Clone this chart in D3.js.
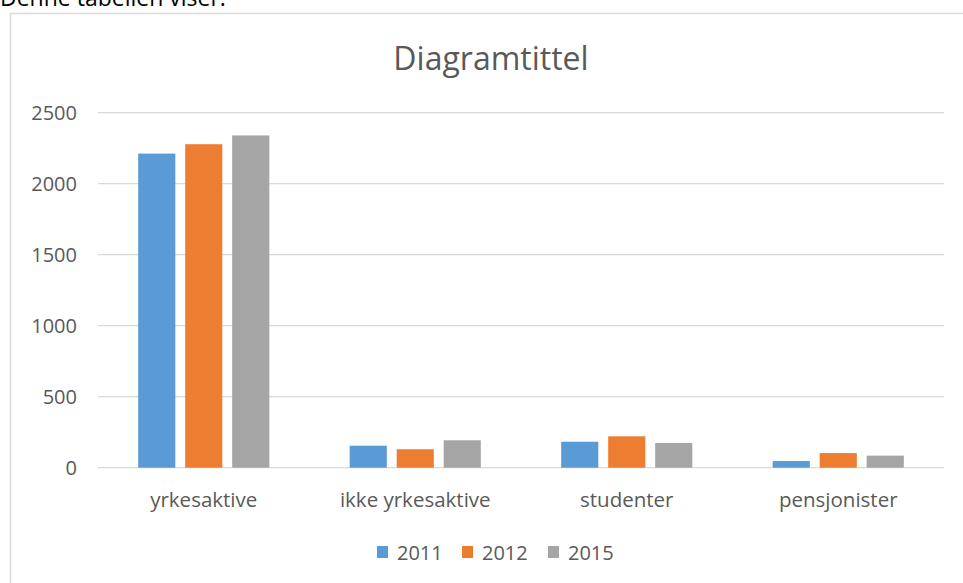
<!DOCTYPE html>
<html>
<head>
<meta charset="utf-8">
<script src="https://cdn.jsdelivr.net/npm/d3@7"></script>
<style>
  body { margin: 0; background: #fff; }
  svg { display: block; font-family: "Open Sans", sans-serif; }
</style>
</head>
<body>
<svg id="chart" width="963" height="583"></svg>
<script>
// data
const categories = ["yrkesaktive", "ikke yrkesaktive", "studenter", "pensjonister"];
const years = ["2011", "2012", "2015"];
const values2011 = [2212, 155, 183, 47];
const values2012 = [2278, 130, 221, 103];
const values2015 = [2340, 193, 174, 85];
const yTicks = [0, 500, 1000, 1500, 2000, 2500];
const colors = ["#5b9bd5", "#ed7d31", "#a5a5a5"];

const series = [values2011, values2012, values2015];

const svg = d3.select("#chart"),
    width = +svg.attr("width"),
    height = +svg.attr("height");

// the text above the chart, cut at the top
svg.append("text")
    .attr("x", 0)
    .attr("y", 6)
    .attr("font-size", 23)
    .attr("fill", "#000")
    .text("Denne tabellen viser:");

// chart frame
svg.append("rect")
    .attr("x", 10.5)
    .attr("y", 13.5)
    .attr("width", 1000)
    .attr("height", 1000)
    .attr("fill", "none")
    .attr("stroke", "#d9d9d9")
    .attr("stroke-width", 1.5);

const margin = {left: 98, right: 944, top: 112.7, bottom: 467.7};

let x = d3.scaleBand()
    .domain(categories)
    .range([margin.left, margin.right]);

let xInner = d3.scaleBand()
    .domain(years)
    .range([0, x.bandwidth() * 0.62])
    .paddingInner(0.21);

let y = d3.scaleLinear()
    .domain([0, 2500])
    .range([margin.bottom, margin.top]);

// gridlines
svg.append("g")
    .selectAll("line")
    .data(yTicks)
    .enter().append("line")
    .attr("x1", margin.left)
    .attr("x2", margin.right)
    .attr("y1", d => y(d))
    .attr("y2", d => y(d))
    .attr("stroke", "#d9d9d9")
    .attr("stroke-width", 1.2);

// y axis labels
let yAxis = d3.axisLeft(y).tickValues(yTicks).tickFormat(d3.format("d")).tickSize(0).tickPadding(21);
let gy = svg.append("g")
    .attr("transform", "translate(" + margin.left + ",0)")
    .call(yAxis);
gy.select(".domain").remove();
gy.selectAll("text")
    .attr("font-family", "Open Sans, sans-serif")
    .attr("font-size", 20)
    .attr("fill", "#595959");

// bars
let groupOffset = (x.bandwidth() - xInner.range()[1]) / 2;
let groups = svg.append("g")
    .selectAll("g")
    .data(categories)
    .enter().append("g")
    .attr("transform", d => "translate(" + (x(d) + groupOffset) + ",0)");

groups.selectAll("rect")
    .data((d, i) => years.map((yr, j) => ({year: yr, value: series[j][i], k: j})))
    .enter().append("rect")
    .attr("x", d => xInner(d.year))
    .attr("width", xInner.bandwidth())
    .attr("y", d => y(d.value))
    .attr("height", d => y(0) - y(d.value))
    .attr("fill", d => colors[d.k]);

// category labels
let xAxis = d3.axisBottom(x).tickSize(0).tickPadding(25);
let gx = svg.append("g")
    .attr("transform", "translate(0," + margin.bottom + ")")
    .call(xAxis);
gx.select(".domain").remove();
gx.selectAll("text")
    .attr("font-family", "Open Sans, sans-serif")
    .attr("font-size", 20.5)
    .attr("fill", "#595959");

// title
svg.append("text")
    .attr("x", 491)
    .attr("y", 70)
    .attr("text-anchor", "middle")
    .attr("font-size", 32)
    .attr("fill", "#595959")
    .text("Diagramtittel");

// legend
let legendX = [377, 462, 548];
let legend = svg.append("g")
    .selectAll("g")
    .data(years)
    .enter().append("g")
    .attr("transform", (d, i) => "translate(" + legendX[i] + ",546)");

legend.append("rect")
    .attr("width", 11)
    .attr("height", 12)
    .attr("fill", (d, i) => colors[i]);

legend.append("text")
    .attr("x", 20)
    .attr("y", 14)
    .attr("font-size", 20)
    .attr("fill", "#595959")
    .text(d => d);
</script>
</body>
</html>
